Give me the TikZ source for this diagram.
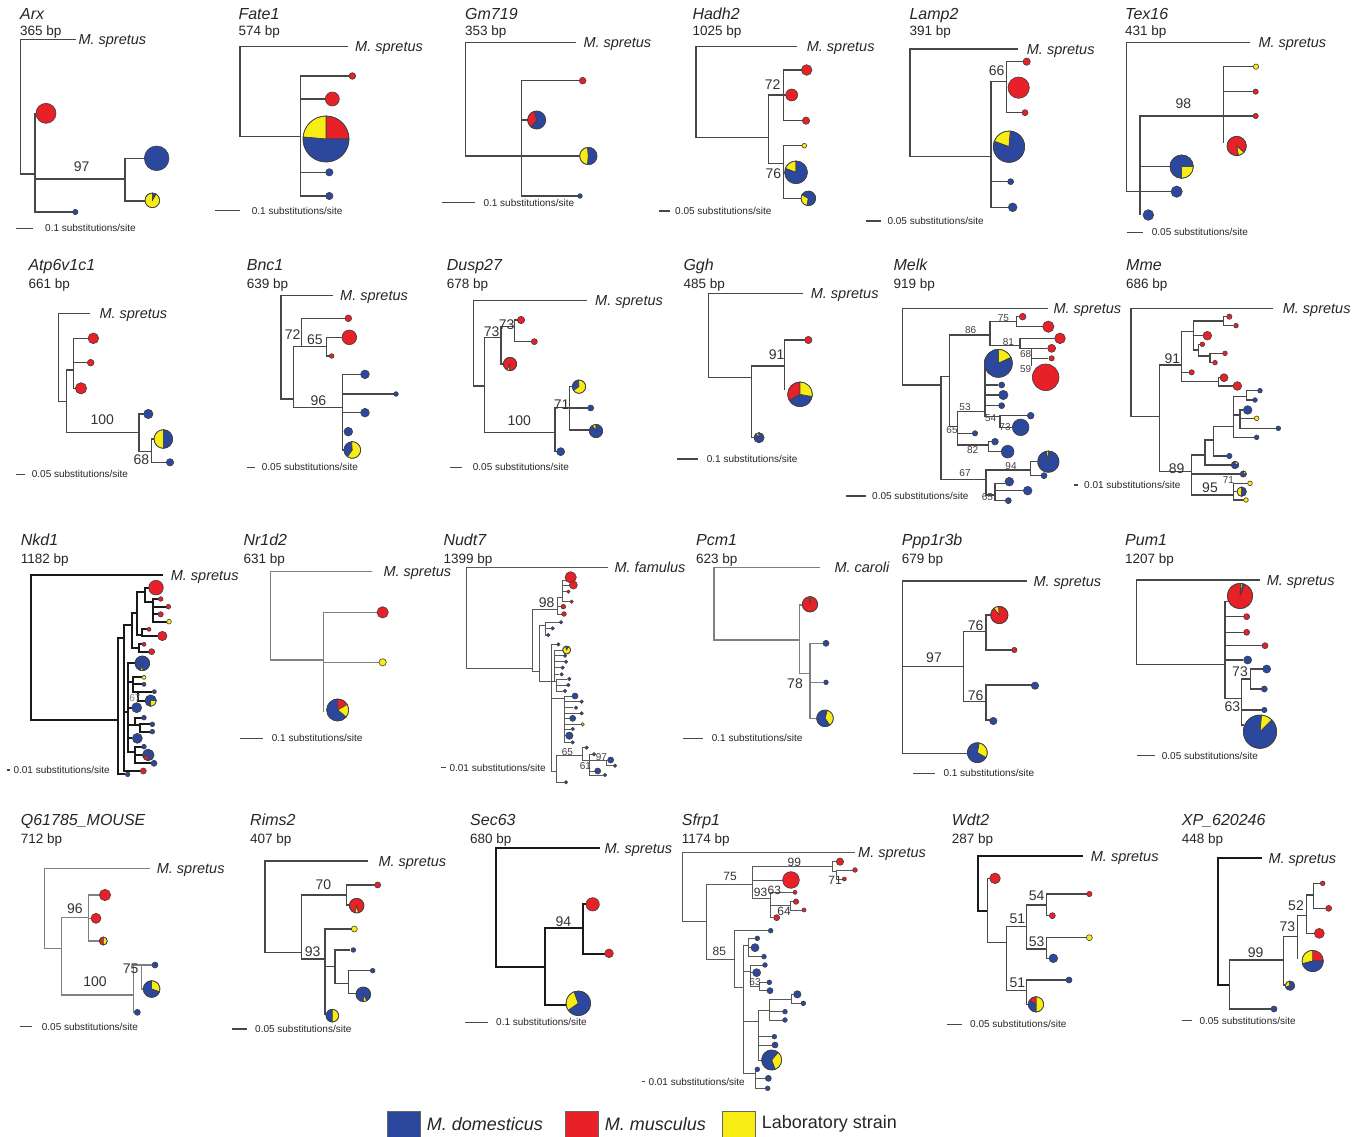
\documentclass[tikz,border=0pt]{standalone}
\usepackage{fontspec}
\setmainfont{Liberation Sans}
\usetikzlibrary{positioning}

\definecolor{dom}{RGB}{44,72,158}
\definecolor{mus}{RGB}{232,32,40}
\definecolor{lab}{RGB}{247,236,20}

\tikzset{
	branch/.style={draw=black!72,line width=1.3pt},
	branchk/.style={draw=black!90,line width=1.8pt},
	branchl/.style={draw=black!50,line width=1.1pt},
	brancht/.style={draw=black!65,line width=0.9pt},
	tipline/.style={draw=black!75,line width=0.6pt},
	genet/.style={anchor=west,inner sep=0pt,text=black!85,text height=11.5pt,text depth=0pt,font=\fontsize{16}{16}\selectfont\itshape},
	bpt/.style={anchor=west,inner sep=0pt,text=black!85,text height=9.7pt,text depth=0pt,font=\fontsize{13.5}{14}\selectfont},
	outg/.style={anchor=west,inner sep=0pt,text=black!85,text height=10.4pt,text depth=0pt,font=\fontsize{14.5}{15}\selectfont\itshape},
	boot/.style={inner sep=0pt,text=black!80,text height=10pt,text depth=0pt,font=\fontsize{14}{14}\selectfont},
	bootm/.style={inner sep=0pt,text=black!80,text height=8.5pt,text depth=0pt,font=\fontsize{12}{12}\selectfont},
	boots/.style={inner sep=0pt,text=black!75,text height=7pt,text depth=0pt,font=\fontsize{10}{10}\selectfont},
	scalet/.style={anchor=west,inner sep=0pt,text=black!85,text height=7.2pt,text depth=0pt,font=\fontsize{10}{10}\selectfont},
	legbox/.style={draw=black!60,line width=0.5pt,minimum width=33pt,minimum height=26pt,inner sep=0pt},
	legt/.style={anchor=west,inner sep=0pt,text=black!85,font=\fontsize{18}{18}\selectfont},
}

% tip circle: x, y, radius, colour
\newcommand\tipc[4]{\filldraw[tipline,fill=#4] (#1,#2) circle (#3pt);}
% pie: x, y, radius, list of start/end/colour
\newcommand\tpie[4]{%
	\foreach \pa/\pb/\pc in {#4}{%
		\filldraw[tipline,fill=\pc] (#1,#2) -- ++(\pa:#3pt) arc[start angle=\pa,end angle=\pb,radius=#3pt] -- cycle;}%
	\draw[tipline] (#1,#2) circle (#3pt);}

\begin{document}
\begin{tikzpicture}[x=1pt,y=-1pt]
	\useasboundingbox (0,0) rectangle (1358,1137);

	% ---- row 1, left ----
	\begin{scope}[shift={(0,0)},scale=1/3]
		% Arx
		\node[genet] (arx) at (60,42) {Arx};
		\node[bpt] (arxbp) at (60,92) {365 bp};
		\draw[branch] (228,118) -- (62,118) -- (62,522) -- (105,522);
		\draw[branch] (120,340) -- (105,340) -- (105,636) -- (220,636);
		\draw[branch] (105,537) -- (375,537);
		\draw[branch] (440,475) -- (375,475) -- (375,603) -- (440,603);
		\node[outg] (arxout) at (235,118) {M. spretus};
		\node[boot] (arxb1) at (245,500) {97};
		\tipc{138}{340}{30}{mus}
		\tipc{470}{475}{37}{dom}
		\tpie{457}{601}{22}{90/420/lab,60/90/dom}
		\tipc{226}{636}{8}{dom}
		\draw[branch] (48,685) -- (100,685);
		\node[scalet] (arxsc) at (135,685) {0.1 substitutions/site};
		% Fate1
		\node[genet] (fate) at (715,42) {Fate1};
		\node[bpt] (fatebp) at (715,92) {574 bp};
		\draw[branch] (1045,140) -- (720,140) -- (720,410) -- (902,410);
		\draw[branch] (1057,228) -- (902,228) -- (902,588) -- (988,588);
		\draw[branch] (902,297) -- (997,297);
		\draw[branch] (902,517) -- (988,517);
		\tipc{1057}{228}{10}{mus}
		\tipc{997}{297}{21}{mus}
		\tpie{978}{417}{69}{0/90/mus,90/175/lab,175/360/dom}
		\tipc{988}{517}{11}{dom}
		\tipc{988}{588}{11}{dom}
		\node[outg] (fateout) at (1065,140) {M. spretus};
		\draw[branch] (645,632) -- (720,632);
		\node[scalet] (fatesc) at (755,632) {0.1 substitutions/site};
	\end{scope}

	% ---- row 1, middle ----
	\begin{scope}[shift={(440,0)},scale=1/3]
		% Gm719
		\node[genet] (gm) at (75,42) {Gm719};
		\node[bpt] (gmbp) at (75,92) {353 bp};
		\draw[branch] (408,128) -- (77,128) -- (77,468) -- (430,468);
		\draw[branch] (428,242) -- (245,242) -- (245,588) -- (420,588);
		\draw[branch] (245,360) -- (270,360);
		\tipc{428}{242}{10}{mus}
		\tpie{290}{360}{27}{105/235/mus,235/465/dom}
		\tpie{445}{468}{26}{95/265/lab,265/455/dom}
		\tipc{420}{588}{7}{dom}
		\node[outg] (gmout) at (430,128) {M. spretus};
		\draw[branch] (5,608) -- (105,608);
		\node[scalet] (gmsc) at (130,608) {0.1 substitutions/site};
		% Hadh2
		\node[genet] (hadh) at (757,42) {Hadh2};
		\node[bpt] (hadhbp) at (757,92) {1025 bp};
		\draw[branch] (1070,140) -- (768,140) -- (768,412) -- (985,412);
		\draw[branch] (1030,285) -- (985,285) -- (985,490) -- (1030,490);
		\draw[branch] (1100,210) -- (1030,210) -- (1030,362) -- (1098,362);
		\draw[branch] (1030,285) -- (1045,285);
		\draw[branch] (1093,437) -- (1030,437) -- (1030,595) -- (1090,595);
		\draw[branch] (1030,517) -- (1040,517);
		\tipc{1100}{210}{16}{mus}
		\tipc{1055}{285}{18}{mus}
		\tipc{1098}{362}{11}{mus}
		\tipc{1093}{437}{7}{lab}
		\tpie{1068}{517}{34}{90/160/lab,160/450/dom}
		\tpie{1105}{595}{22}{150/260/lab,260/510/dom}
		\node[boot] (hadhb1) at (998,255) {72};
		\node[boot] (hadhb2) at (1000,522) {76};
		\node[outg] (hadhout) at (1100,140) {M. spretus};
		\draw[branch] (658,633) -- (690,633);
		\node[scalet] (hadhsc) at (705,633) {0.05 substitutions/site};
	\end{scope}

	% ---- row 1, right ----
	\begin{scope}[shift={(880,0)},scale=1/3]
		% Lamp2
		\node[genet] (lamp) at (88,42) {Lamp2};
		\node[bpt] (lampbp) at (88,92) {391 bp};
		\draw[branch] (415,147) -- (90,147) -- (90,470) -- (333,470);
		\draw[branch] (380,245) -- (333,245) -- (333,622) -- (398,622);
		\draw[branch] (440,185) -- (380,185) -- (380,338) -- (435,338);
		\draw[branch] (333,545) -- (392,545);
		\tipc{440}{185}{11}{mus}
		\tipc{416}{263}{32}{mus}
		\tipc{435}{338}{9}{mus}
		\tpie{387}{440}{47}{85/160/lab,160/445/dom}
		\tipc{392}{545}{9}{dom}
		\tipc{398}{622}{13}{dom}
		\node[boot] (lampb1) at (350,212) {66};
		\node[outg] (lampout) at (440,147) {M. spretus};
		\draw[branch] (-42,663) -- (2,663);
		\node[scalet] (lampsc) at (22,663) {0.05 substitutions/site};
		% Tex16
		\node[genet] (tex) at (735,42) {Tex16};
		\node[bpt] (texbp) at (735,92) {431 bp};
		\draw[branch] (1110,128) -- (740,128) -- (740,575) -- (880,575);
		\draw[branch] (1030,348) -- (780,348) -- (780,645);
		\draw[branch] (780,500) -- (880,500);
		\draw[branch] (1128,200) -- (1030,200) -- (1030,430);
		\draw[branch] (1030,275) -- (1127,275);
		\draw[branch] (1030,348) -- (1127,348);
		\tipc{890}{575}{17}{dom}
		\tpie{905}{500}{35}{270/360/lab,0/270/dom}
		\tipc{805}{645}{16}{dom}
		\tipc{1128}{200}{8}{lab}
		\tipc{1127}{275}{8}{mus}
		\tipc{1127}{348}{8}{mus}
		\tpie{1070}{438}{29}{280/320/lab,320/640/mus}
		\node[boot] (texb1) at (910,312) {98};
		\node[outg] (texout) at (1135,128) {M. spretus};
		\draw[branch] (740,697) -- (790,697);
		\node[scalet] (texsc) at (815,697) {0.05 substitutions/site};
	\end{scope}

	% ---- row 2, left ----
	\begin{scope}[shift={(0,250)},scale=1/3]
		% Atp6v1c1
		\node[genet] (atp) at (85,45) {Atp6v1c1};
		\node[bpt] (atpbp) at (85,100) {661 bp};
		\draw[branch] (270,190) -- (175,190) -- (175,455) -- (200,455);
		\draw[branch] (220,360) -- (200,360) -- (200,547) -- (417,547);
		\draw[branch] (265,265) -- (220,265) -- (220,415) -- (230,415);
		\draw[branch] (220,338) -- (265,338);
		\draw[branch] (435,492) -- (417,492) -- (417,605) -- (455,605);
		\draw[branch] (465,567) -- (455,567) -- (455,637) -- (505,637);
		\tipc{280}{265}{16}{mus}
		\tipc{272}{338}{10}{mus}
		\tipc{243}{415}{17}{mus}
		\tipc{445}{492}{14}{dom}
		\tpie{490}{567}{28}{90/270/lab,270/450/dom}
		\tipc{510}{637}{11}{dom}
		\node[boot] (atpb1) at (307,510) {100};
		\node[boot] (atpb2) at (424,628) {68};
		\node[outg] (atpout) at (298,190) {M. spretus};
		\draw[branch] (48,673) -- (75,673);
		\node[scalet] (atpsc) at (95,673) {0.05 substitutions/site};
		% Bnc1
		\node[genet] (bnc) at (740,45) {Bnc1};
		\node[bpt] (bncbp) at (740,100) {639 bp};
		\draw[branch] (1000,137) -- (843,137) -- (843,447) -- (880,447);
		\draw[branch] (980,290) -- (880,290) -- (880,473) -- (1028,473);
		\draw[branch] (1045,205) -- (905,205) -- (905,290);
		\draw[branch] (1030,262) -- (980,262) -- (980,318) -- (995,318);
		\draw[branch] (1095,373) -- (1028,373) -- (1028,600) -- (1040,600);
		\draw[branch] (1028,432) -- (1188,432);
		\draw[branch] (1028,488) -- (1095,488);
		\tipc{1045}{205}{10}{mus}
		\tipc{1048}{262}{22}{mus}
		\tipc{995}{318}{7}{mus}
		\tipc{1095}{373}{13}{dom}
		\tipc{1188}{432}{7}{dom}
		\tipc{1095}{488}{13}{dom}
		\tipc{1045}{545}{13}{dom}
		\tpie{1057}{600}{25}{95/235/dom,235/455/lab}
		\node[boot] (bncb1) at (878,252) {72};
		\node[boot] (bncb2) at (945,268) {65};
		\node[boot] (bncb3) at (955,452) {96};
		\node[outg] (bncout) at (1020,137) {M. spretus};
		\draw[branch] (740,652) -- (765,652);
		\node[scalet] (bncsc) at (785,652) {0.05 substitutions/site};
	\end{scope}

	% ---- row 2, middle ----
	\begin{scope}[shift={(440,250)},scale=1/3]
		% Dusp27
		\node[genet] (dusp) at (20,45) {Dusp27};
		\node[bpt] (duspbp) at (20,100) {678 bp};
		\draw[branch] (440,152) -- (100,152) -- (100,408) -- (133,408);
		\draw[branch] (183,263) -- (133,263) -- (133,548) -- (345,548);
		\draw[branch] (223,230) -- (183,230) -- (183,342) -- (195,342);
		\draw[branch] (235,210) -- (223,210) -- (223,275) -- (275,275);
		\draw[branch] (355,605) -- (345,605) -- (345,472) -- (388,472);
		\draw[branch] (400,410) -- (388,410) -- (388,540) -- (450,540);
		\draw[branch] (388,474) -- (452,474);
		\tipc{243}{210}{11}{mus}
		\tipc{283}{275}{9}{mus}
		\tpie{210}{342}{20}{240/265/lab,265/600/mus}
		\tipc{362}{605}{12}{dom}
		\tpie{417}{410}{20}{95/215/dom,215/455/lab}
		\tipc{452}{474}{9}{dom}
		\tpie{468}{543}{20}{90/125/lab,125/450/dom}
		\node[boot] (duspb1) at (155,243) {73};
		\node[boot] (duspb2) at (200,222) {73};
		\node[boot] (duspb3) at (238,513) {100};
		\node[boot] (duspb4) at (365,465) {71};
		\node[outg] (duspout) at (465,152) {M. spretus};
		\draw[branch] (30,652) -- (65,652);
		\node[scalet] (duspsc) at (98,652) {0.05 substitutions/site};
		% Ggh
		\node[genet] (ggh) at (730,45) {Ggh};
		\node[bpt] (gghbp) at (730,100) {485 bp};
		\draw[branch] (1090,130) -- (805,130) -- (805,382) -- (935,382);
		\draw[branch] (1033,348) -- (935,348) -- (935,563) -- (945,563);
		\draw[branch] (1095,270) -- (1033,270) -- (1033,420);
		\tpie{957}{563}{15}{90/135/lab,135/450/dom}
		\tipc{1105}{270}{11}{mus}
		\tpie{1080}{433}{37}{90/210/mus,210/350/dom,350/450/lab}
		\node[boot] (gghb1) at (1010,312) {91};
		\node[outg] (gghout) at (1112,130) {M. spretus};
		\draw[branch] (712,627) -- (775,627);
		\node[scalet] (gghsc) at (800,627) {0.1 substitutions/site};
	\end{scope}

	% ---- row 2, right ----
	\begin{scope}[shift={(880,250)},scale=1/3]
		% Melk
		\node[genet] (melk) at (40,45) {Melk};
		\node[bpt] (melkbp) at (40,100) {919 bp};
		\draw[branch] (505,175) -- (68,175) -- (68,405) -- (183,405);
		\draw[branch] (208,380) -- (183,380) -- (183,688) -- (318,688);
		\draw[branch] (330,255) -- (208,255) -- (208,530) -- (232,530);
		\draw[branch] (410,215) -- (330,215) -- (330,287) -- (420,287);
		\draw[branch] (420,200) -- (410,200) -- (410,230) -- (490,230);
		\draw[branch] (525,265) -- (420,265) -- (420,295) -- (455,295);
		\draw[branch] (500,295) -- (455,295) -- (455,348);
		\draw[branch] (455,325) -- (505,325);
		\tipc{428}{200}{10}{mus}
		\tipc{505}{230}{17}{mus}
		\tipc{540}{265}{16}{mus}
		\tipc{515}{295}{12}{mus}
		\tipc{515}{325}{8}{mus}
		\tipc{497}{382}{40}{mus}
		\node[boots] (melkb1) at (272,240) {86};
		\node[boots] (melkb2) at (370,203) {75};
		\node[boots] (melkb3) at (385,275) {81};
		\node[boots] (melkb4) at (437,312) {68};
		\node[boots] (melkb5) at (437,357) {59};
		\draw[branch] (315,485) -- (232,485) -- (232,585) -- (325,585);
		\draw[branch] (232,550) -- (278,550);
		\draw[branch] (315,350) -- (315,500) -- (360,500);
		\draw[branch] (315,405) -- (355,405);
		\draw[branch] (315,435) -- (358,435);
		\draw[branch] (315,467) -- (356,467);
		\draw[branch] (445,497) -- (360,497) -- (360,532) -- (400,532);
		\draw[branch] (340,575) -- (325,575) -- (325,605) -- (365,605);
		\tpie{355}{340}{42}{25/90/lab,90/385/dom}
		\tipc{365}{405}{9}{dom}
		\tipc{370}{435}{14}{dom}
		\tipc{365}{467}{9}{dom}
		\tipc{452}{497}{10}{dom}
		\tipc{422}{532}{25}{dom}
		\tipc{285}{550}{8}{dom}
		\tipc{345}{575}{10}{dom}
		\tipc{383}{605}{19}{dom}
		\node[boots] (melkb6) at (255,470) {53};
		\node[boots] (melkb7) at (216,540) {65};
		\node[boots] (melkb8) at (332,505) {54};
		\node[boots] (melkb9) at (375,532) {73};
		\node[boots] (melkb10) at (278,600) {82};
		\draw[branch] (452,660) -- (318,660) -- (318,735) -- (345,735);
		\draw[branch] (470,635) -- (452,635) -- (452,677) -- (485,677);
		\draw[branch] (375,700) -- (345,700) -- (345,752) -- (378,752);
		\draw[branch] (345,722) -- (430,722);
		\tpie{505}{635}{32}{90/102/lab,102/450/dom}
		\tipc{492}{677}{9}{dom}
		\tipc{388}{695}{13}{dom}
		\tipc{443}{722}{13}{dom}
		\tipc{385}{752}{9}{dom}
		\node[boots] (melkb11) at (255,668) {67};
		\node[boots] (melkb12) at (393,648) {94};
		\node[boots] (melkb13) at (322,742) {65};
		\node[outg] (melkout) at (520,175) {M. spretus};
		\draw[branch] (-102,738) -- (-42,738);
		\node[scalet] (melksc) at (-24,738) {0.05 substitutions/site};
		% Mme
		\node[genet] (mme) at (738,45) {Mme};
		\node[bpt] (mmebp) at (738,100) {686 bp};
		\draw[branch] (1180,175) -- (753,175) -- (753,500) -- (838,500);
		\draw[branch] (905,345) -- (838,345) -- (838,665) -- (935,665);
		\draw[branch] (940,245) -- (905,245) -- (905,395) -- (1015,395);
		\draw[branch] (905,367) -- (927,367);
		\draw[branch] (1030,213) -- (940,213) -- (940,300) -- (955,300);
		\draw[branch] (1040,200) -- (1030,200) -- (1030,227) -- (1060,227);
		\draw[branch] (940,257) -- (969,257);
		\draw[branch] (960,283) -- (955,283) -- (955,318) -- (990,318);
		\draw[branch] (1028,310) -- (990,310) -- (990,338) -- (998,338);
		\draw[branch] (1020,383) -- (1015,383) -- (1015,408) -- (1059,408);
		\tipc{1048}{200}{8}{mus}
		\tipc{1068}{227}{7}{mus}
		\tipc{982}{257}{13}{mus}
		\tipc{967}{283}{7}{mus}
		\tipc{1035}{310}{7}{mus}
		\tipc{1005}{338}{7}{mus}
		\tipc{935}{367}{8}{mus}
		\tipc{1032}{383}{12}{mus}
		\tipc{1072}{408}{13}{mus}
		\draw[branch] (975,615) -- (935,615) -- (935,735) -- (1060,735);
		\draw[branch] (935,672) -- (1081,672);
		\draw[branch] (1000,570) -- (975,570) -- (975,645) -- (1054,645);
		\draw[branch] (1060,530) -- (1000,530) -- (1000,618) -- (1040,618);
		\draw[branch] (1100,440) -- (1060,440) -- (1060,562) -- (1123,562);
		\draw[branch] (1133,422) -- (1100,422) -- (1100,450) -- (1118,450);
		\draw[branch] (1060,495) -- (1080,495);
		\draw[branch] (1090,480) -- (1080,480) -- (1080,535) -- (1188,535);
		\draw[branch] (1080,505) -- (1123,505);
		\draw[branch] (1103,700) -- (1060,700) -- (1060,750) -- (1091,750);
		\draw[branch] (1060,725) -- (1071,725);
		\tipc{1140}{422}{7}{dom}
		\tipc{1125}{450}{7}{dom}
		\tipc{1103}{480}{13}{dom}
		\tipc{1130}{505}{7}{lab}
		\tipc{1195}{535}{7}{dom}
		\tipc{1130}{562}{7}{dom}
		\tipc{1048}{618}{8}{dom}
		\tpie{1065}{645}{11}{20/90/lab,90/380/dom}
		\tpie{1090}{672}{9}{0/90/lab,90/360/dom}
		\tipc{1110}{700}{7}{lab}
		\tpie{1085}{725}{14}{90/270/lab,270/450/dom}
		\tipc{1098}{750}{7}{lab}
		\node[boot] (mmeb1) at (877,325) {91};
		\node[boot] (mmeb2) at (890,655) {89};
		\node[boot] (mmeb3) at (990,712) {95};
		\node[boots] (mmeb4) at (1045,690) {71};
		\node[outg] (mmeout) at (1208,175) {M. spretus};
		\draw[branch] (583,705) -- (595,705);
		\node[scalet] (mmesc) at (612,705) {0.01 substitutions/site};
	\end{scope}

	% ---- row 3, left ----
	\begin{scope}[shift={(0,525)},scale=1/3]
		% Nkd1
		\node[genet] (nkd) at (62,45) {Nkd1};
		\node[bpt] (nkdbp) at (62,100) {1182 bp};
		\draw[branchk] (490,150) -- (92,150) -- (92,585) -- (355,585);
		\draw[branchk] (372,340) -- (355,340) -- (355,748) -- (376,748);
		\draw[branchk] (395,300) -- (372,300) -- (372,738) -- (421,738);
		\draw[branchk] (410,265) -- (395,265) -- (395,370) -- (418,370);
		\draw[branchk] (435,200) -- (410,200) -- (410,330) -- (425,330);
		\draw[branchk] (446,188) -- (435,188) -- (435,230) -- (460,230);
		\draw[branchk] (475,222) -- (460,222) -- (460,290) -- (500,290);
		\draw[branchk] (460,245) -- (498,245);
		\draw[branchk] (460,268) -- (474,268);
		\draw[branchk] (441,313) -- (425,313) -- (425,333) -- (473,333);
		\draw[branchk] (426,358) -- (418,358) -- (418,380) -- (446,380);
		\tipc{468}{188}{22}{mus}
		\tipc{482}{222}{7}{mus}
		\tipc{505}{245}{7}{mus}
		\tipc{482}{268}{8}{mus}
		\tipc{507}{290}{7}{lab}
		\tipc{447}{313}{6}{mus}
		\tipc{487}{333}{14}{mus}
		\tipc{432}{358}{6}{mus}
		\tipc{455}{380}{9}{mus}
		\draw[branchk] (372,560) -- (385,560);
		\draw[branchk] (405,415) -- (385,415) -- (385,680) -- (405,680);
		\draw[branchk] (385,470) -- (400,470);
		\draw[branchk] (426,457) -- (400,457) -- (400,500) -- (415,500);
		\draw[branchk] (400,478) -- (426,478);
		\draw[branchk] (456,500) -- (415,500) -- (415,527) -- (435,527);
		\draw[branchk] (385,548) -- (395,548);
		\draw[branchk] (385,600) -- (405,600);
		\draw[branchk] (425,578) -- (405,578) -- (405,600) -- (420,600);
		\draw[branchk] (450,598) -- (420,598) -- (420,620) -- (450,620);
		\draw[branchk] (385,640) -- (397,640);
		\draw[branchk] (425,665) -- (405,665) -- (405,715) -- (453,715);
		\draw[branchk] (405,690) -- (428,690);
		\tpie{427}{415}{22}{255/275/lab,275/615/dom}
		\tipc{432}{457}{6}{lab}
		\tipc{432}{478}{6}{dom}
		\tipc{463}{500}{6}{dom}
		\tpie{452}{527}{17}{270/360/lab,0/270/dom}
		\tipc{410}{548}{15}{dom}
		\tipc{432}{578}{7}{dom}
		\tipc{457}{598}{7}{dom}
		\tipc{457}{620}{7}{dom}
		\tipc{412}{640}{15}{dom}
		\tipc{432}{665}{7}{dom}
		\tpie{445}{690}{17}{200/265/mus,265/560/dom}
		\tipc{462}{715}{9}{dom}
		\tipc{430}{738}{9}{mus}
		\tipc{383}{748}{7}{dom}
		\node[boots,text=black!50] (nkdb1) at (405,520) {67};
		\node[outg] (nkdout) at (512,150) {M. spretus};
		\draw[branch] (20,735) -- (30,735);
		\node[scalet] (nkdsc) at (40,735) {0.01 substitutions/site};
		% Nr1d2
		\node[genet] (nr) at (730,45) {Nr1d2};
		\node[bpt] (nrbp) at (730,100) {631 bp};
		\draw[branchl] (1115,140) -- (812,140) -- (812,405) -- (970,405);
		\draw[branchl] (1130,262) -- (970,262) -- (970,560);
		\draw[branchl] (970,412) -- (1137,412);
		\tipc{1148}{262}{17}{mus}
		\tipc{1148}{412}{11}{lab}
		\tpie{1013}{555}{33}{30/90/mus,-40/30/lab,90/320/dom}
		\node[outg] (nrout) at (1150,140) {M. spretus};
		\draw[branch] (720,640) -- (790,640);
		\node[scalet] (nrsc) at (815,640) {0.1 substitutions/site};
	\end{scope}

	% ---- row 3, middle ----
	\begin{scope}[shift={(440,525)},scale=1/3]
		% Nudt7
		\node[genet] (nudt) at (10,45) {Nudt7};
		\node[bpt] (nudtbp) at (10,100) {1399 bp};
		\draw[brancht] (505,128) -- (78,128) -- (78,430) -- (278,430);
		\draw[brancht] (352,252) -- (278,252) -- (278,440) -- (298,440);
		\draw[brancht] (365,267) -- (352,267) -- (352,218) -- (368,218);
		\draw[brancht] (352,245) -- (363,245);
		\draw[brancht] (378,165) -- (368,165) -- (368,230) -- (390,230);
		\draw[brancht] (368,180) -- (390,180);
		\draw[brancht] (368,200) -- (380,200);
		\tipc{392}{157}{17}{mus}
		\tipc{400}{180}{12}{mus}
		\tipc{385}{200}{5}{mus}
		\tipc{395}{230}{5}{mus}
		\tipc{370}{245}{7}{mus}
		\tipc{372}{267}{7}{mus}
		\node[boot] (nudtb1) at (320,232) {98};
		\draw[brancht] (315,300) -- (298,300) -- (298,470) -- (335,470);
		\draw[brancht] (358,292) -- (315,292) -- (315,330) -- (320,330);
		\draw[brancht] (315,310) -- (335,310);
		\tipc{363}{292}{5}{dom}
		\tipc{338}{310}{5}{dom}
		\tipc{325}{330}{5}{dom}
		\draw[brancht] (350,358) -- (335,358) -- (335,740) -- (350,740);
		\draw[brancht] (368,375) -- (342,375) -- (342,470) -- (335,470);
		\draw[brancht] (342,392) -- (370,392);
		\draw[brancht] (342,410) -- (372,410);
		\draw[brancht] (342,428) -- (362,428);
		\draw[brancht] (342,448) -- (358,448);
		\draw[brancht] (382,462) -- (350,462) -- (350,498) -- (370,498);
		\draw[brancht] (342,470) -- (350,470);
		\draw[brancht] (350,480) -- (380,480);
		\tipc{355}{358}{5}{dom}
		\tpie{380}{375}{12}{60/110/dom,110/420/lab}
		\tipc{375}{392}{5}{dom}
		\tipc{378}{410}{5}{dom}
		\tipc{368}{428}{5}{dom}
		\tipc{365}{448}{5}{dom}
		\tipc{388}{462}{5}{dom}
		\tipc{385}{480}{5}{dom}
		\tipc{375}{498}{5}{dom}
		\draw[brancht] (335,520) -- (372,520);
		\draw[brancht] (395,513) -- (372,513) -- (372,652) -- (392,652);
		\draw[brancht] (372,530) -- (420,530);
		\draw[brancht] (372,548) -- (400,548);
		\draw[brancht] (372,565) -- (420,565);
		\draw[brancht] (372,580) -- (390,580);
		\draw[brancht] (372,598) -- (423,598);
		\draw[brancht] (372,612) -- (392,612);
		\draw[brancht] (372,632) -- (378,632);
		\tipc{405}{513}{9}{dom}
		\tipc{425}{530}{5}{dom}
		\tipc{408}{548}{5}{dom}
		\tipc{425}{565}{5}{dom}
		\tipc{398}{580}{9}{dom}
		\tipc{428}{598}{5}{lab}
		\tipc{398}{612}{5}{dom}
		\tipc{388}{632}{11}{dom}
		\tipc{398}{652}{5}{dom}
		\draw[brancht] (428,690) -- (350,690) -- (350,772) -- (372,772);
		\draw[brancht] (435,668) -- (428,668) -- (428,705) -- (448,705);
		\draw[brancht] (456,688) -- (448,688) -- (448,750) -- (490,750);
		\draw[brancht] (448,705) -- (500,705);
		\draw[brancht] (505,705) -- (500,705) -- (500,722) -- (520,722);
		\draw[brancht] (448,738) -- (465,738);
		\tipc{440}{668}{5}{dom}
		\tipc{462}{688}{5}{dom}
		\tipc{512}{705}{9}{dom}
		\tipc{525}{722}{5}{dom}
		\tipc{473}{738}{9}{dom}
		\tipc{495}{750}{5}{dom}
		\tipc{378}{772}{5}{dom}
		\node[boots] (nudtb2) at (382,680) {65};
		\node[boots] (nudtb3) at (484,695) {97};
		\node[boots] (nudtb4) at (436,722) {61};
		\node[outg] (nudtout) at (523,128) {M. famulus};
		\draw[branch] (3,728) -- (18,728);
		\node[scalet] (nudtsc) at (28,728) {0.01 substitutions/site};
		% Pcm1
		\node[genet] (pcm) at (768,45) {Pcm1};
		\node[bpt] (pcmbp) at (768,100) {623 bp};
		\draw[branchl] (1140,128) -- (822,128) -- (822,345) -- (1078,345);
		\draw[branchl] (1088,240) -- (1078,240) -- (1078,445) -- (1110,445);
		\draw[branchl] (1150,355) -- (1110,355) -- (1110,580) -- (1130,580);
		\draw[branchl] (1110,472) -- (1150,472);
		\tpie{1110}{238}{23}{82/96/lab,96/442/mus}
		\tipc{1158}{355}{9}{dom}
		\tipc{1158}{472}{7}{dom}
		\tpie{1155}{580}{25}{-55/75/lab,75/305/dom}
		\node[boot] (pcmb1) at (1065,475) {78};
		\node[outg] (pcmout) at (1183,128) {M. caroli};
		\draw[branch] (730,640) -- (790,640);
		\node[scalet] (pcmsc) at (815,640) {0.1 substitutions/site};
	\end{scope}

	% ---- row 3, right ----
	\begin{scope}[shift={(880,525)},scale=1/3]
		% Ppp1r3b
		\node[genet] (ppp) at (65,45) {Ppp1r3b};
		\node[bpt] (pppbp) at (65,100) {679 bp};
		\draw[branch] (440,168) -- (68,168) -- (68,685) -- (265,685);
		\draw[branch] (68,425) -- (250,425);
		\draw[branch] (318,320) -- (250,320) -- (250,530) -- (318,530);
		\draw[branch] (335,270) -- (318,270) -- (318,375) -- (395,375);
		\draw[branch] (455,480) -- (318,480) -- (318,585) -- (330,585);
		\tpie{292}{683}{30}{-30/80/lab,80/330/dom}
		\tpie{358}{270}{26}{95/130/lab,130/455/mus}
		\tipc{403}{375}{8}{mus}
		\tipc{465}{482}{11}{dom}
		\tipc{340}{588}{11}{dom}
		\node[boot] (pppb1) at (162,398) {97};
		\node[boot] (pppb2) at (287,300) {76};
		\node[boot] (pppb3) at (287,510) {76};
		\node[outg] (pppout) at (460,168) {M. spretus};
		\draw[branch] (100,745) -- (165,745);
		\node[scalet] (pppsc) at (190,745) {0.1 substitutions/site};
		% Pum1
		\node[genet] (pum) at (735,45) {Pum1};
		\node[bpt] (pumbp) at (735,100) {1207 bp};
		\draw[branch] (1140,165) -- (770,165) -- (770,418) -- (1035,418);
		\draw[branch] (1045,230) -- (1035,230) -- (1035,520) -- (1085,520);
		\draw[branch] (1035,275) -- (1092,275);
		\draw[branch] (1035,322) -- (1092,322);
		\draw[branch] (1035,362) -- (1145,362);
		\draw[branch] (1035,405) -- (1090,405);
		\draw[branch] (1112,462) -- (1085,462) -- (1085,600) -- (1092,600);
		\draw[branch] (1150,432) -- (1112,432) -- (1112,492) -- (1145,492);
		\draw[branch] (1085,555) -- (1145,555);
		\tpie{1080}{213}{38}{68/78/dom,78/86/lab,86/428/mus}
		\tipc{1100}{275}{9}{mus}
		\tipc{1100}{322}{9}{mus}
		\tipc{1155}{362}{9}{mus}
		\tipc{1103}{405}{12}{dom}
		\tipc{1160}{432}{12}{dom}
		\tipc{1153}{492}{9}{dom}
		\tipc{1153}{555}{8}{dom}
		\tpie{1140}{620}{50}{45/85/lab,85/405/dom}
		\node[boot] (pumb1) at (1080,440) {73};
		\node[boot] (pumb2) at (1057,545) {63};
		\node[outg] (pumout) at (1160,165) {M. spretus};
		\draw[branch] (770,692) -- (825,692);
		\node[scalet] (pumsc) at (845,692) {0.05 substitutions/site};
	\end{scope}

	% ---- row 4, left ----
	\begin{scope}[shift={(0,805)},scale=1/3]
		% Q61785_MOUSE
		\node[genet] (qmo) at (62,45) {Q61785\_MOUSE};
		\node[bpt] (qmobp) at (62,100) {712 bp};
		\draw[branchl] (450,190) -- (133,190) -- (133,430) -- (185,430);
		\draw[branchl] (265,338) -- (185,338) -- (185,570) -- (400,570);
		\draw[branchl] (300,270) -- (265,270) -- (265,408) -- (298,408);
		\draw[branchl] (265,340) -- (275,340);
		\draw[branchl] (425,480) -- (400,480) -- (400,622) -- (405,622);
		\draw[branchl] (455,480) -- (425,480) -- (425,552) -- (432,552);
		\tipc{315}{270}{17}{mus}
		\tipc{288}{340}{15}{mus}
		\tpie{310}{408}{12}{90/270/mus,-90/90/lab}
		\tipc{465}{480}{9}{dom}
		\tpie{455}{552}{25}{-20/90/lab,90/340/dom}
		\tipc{412}{622}{9}{dom}
		\node[boot] (qmob1) at (225,310) {96};
		\node[boot] (qmob2) at (285,530) {100};
		\node[boot] (qmob3) at (392,490) {75};
		\node[outg] (qmoout) at (470,190) {M. spretus};
		\draw[branch] (60,665) -- (95,665);
		\node[scalet] (qmosc) at (125,665) {0.05 substitutions/site};
		% Rims2
		\node[genet] (rims) at (750,45) {Rims2};
		\node[bpt] (rimsbp) at (750,100) {407 bp};
		\draw[branch] (1105,168) -- (795,168) -- (795,442) -- (905,442);
		\draw[branch] (1040,270) -- (905,270) -- (905,462) -- (975,462);
		\draw[branch] (1125,240) -- (1040,240) -- (1040,300) -- (1050,300);
		\draw[branch] (1055,372) -- (975,372) -- (975,630);
		\draw[branch] (1005,485) -- (975,485);
		\draw[branch] (1050,435) -- (1005,435) -- (1005,535) -- (1045,535);
		\draw[branch] (1110,497) -- (1045,497) -- (1045,565) -- (1068,565);
		\tipc{1133}{240}{9}{mus}
		\tpie{1070}{302}{22}{255/285/lab,285/615/mus}
		\tipc{1063}{372}{9}{lab}
		\tipc{1060}{435}{7}{dom}
		\tipc{1118}{497}{7}{dom}
		\tpie{1090}{568}{22}{270/300/lab,300/630/dom}
		\tpie{997}{632}{19}{90/270/dom,-90/90/lab}
		\node[boot] (rimsb1) at (970,238) {70};
		\node[boot] (rimsb2) at (938,440) {93};
		\node[outg] (rimsout) at (1135,168) {M. spretus};
		\draw[branch] (695,672) -- (740,672);
		\node[scalet] (rimssc) at (765,672) {0.05 substitutions/site};
	\end{scope}

	% ---- row 4, middle ----
	\begin{scope}[shift={(440,805)},scale=1/3]
		% Sec63
		\node[genet] (sec) at (90,45) {Sec63};
		\node[bpt] (secbp) at (90,100) {680 bp};
		\draw[branchk] (480,130) -- (168,130) -- (168,487) -- (315,487);
		\draw[branchk] (428,370) -- (315,370) -- (315,600) -- (380,600);
		\draw[branchk] (440,298) -- (428,298) -- (428,447) -- (495,447);
		\tipc{458}{298}{20}{mus}
		\tipc{507}{445}{13}{mus}
		\tpie{415}{595}{37}{110/215/lab,215/470/dom}
		\node[boot] (secb1) at (370,350) {94};
		\node[outg] (secout) at (493,130) {M. spretus};
		\draw[branch] (75,652) -- (145,652);
		\node[scalet] (secsc) at (168,652) {0.1 substitutions/site};
		% Sfrp1
		\node[genet] (sfrp) at (725,45) {Sfrp1};
		\node[bpt] (sfrpbp) at (725,100) {1174 bp};
		\draw[brancht] (1245,143) -- (728,143) -- (728,348) -- (798,348);
		\draw[brancht] (938,237) -- (798,237) -- (798,462) -- (883,462);
		\draw[brancht] (1178,185) -- (938,185) -- (938,280) -- (990,280);
		\draw[brancht] (938,225) -- (1028,225);
		\draw[brancht] (1190,170) -- (1178,170) -- (1178,200) -- (1190,200);
		\draw[brancht] (1238,195) -- (1190,195) -- (1190,222) -- (1207,222);
		\draw[brancht] (1058,262) -- (990,262) -- (990,338) -- (1000,338);
		\draw[brancht] (990,300) -- (1050,300);
		\draw[brancht] (1060,290) -- (1050,290) -- (1050,315) -- (1086,315);
		\tipc{1200}{170}{11}{mus}
		\tipc{1245}{195}{7}{mus}
		\tipc{1213}{222}{6}{mus}
		\tipc{1053}{225}{25}{mus}
		\tipc{1065}{262}{6}{mus}
		\tipc{1010}{338}{9}{mus}
		\tipc{1068}{290}{8}{mus}
		\tipc{1092}{315}{6}{mus}
		\node[bootm] (sfrpb1) at (870,215) {75};
		\node[bootm] (sfrpb2) at (1063,172) {99};
		\node[bootm] (sfrpb3) at (1185,225) {71};
		\node[bootm] (sfrpb4) at (962,262) {93};
		\node[bootm] (sfrpb5) at (1003,255) {63};
		\node[bootm] (sfrpb6) at (1032,320) {64};
		\node[bootm] (sfrpb7) at (838,440) {85};
		\draw[brancht] (985,377) -- (883,377) -- (883,548) -- (910,548);
		\draw[brancht] (925,420) -- (910,420) -- (910,805) -- (945,805);
		\draw[brancht] (945,400) -- (925,400) -- (925,455) -- (965,455);
		\draw[brancht] (925,428) -- (933,428);
		\draw[brancht] (910,500) -- (930,500);
		\draw[brancht] (968,480) -- (930,480) -- (930,545) -- (958,545);
		\draw[brancht] (930,503) -- (938,503);
		\draw[brancht] (981,532) -- (958,532) -- (958,557) -- (981,557);
		\draw[brancht] (910,650) -- (955,650);
		\draw[brancht] (988,615) -- (955,615) -- (955,765) -- (965,765);
		\draw[brancht] (1055,582) -- (988,582) -- (988,645) -- (1028,645);
		\draw[brancht] (988,620) -- (1028,620);
		\draw[brancht] (1061,568) -- (1055,568) -- (1055,595) -- (1083,595);
		\draw[brancht] (955,695) -- (996,695);
		\draw[brancht] (955,720) -- (996,720);
		\draw[brancht] (950,793) -- (945,793) -- (945,850) -- (976,850);
		\draw[brancht] (945,820) -- (976,820);
		\tipc{992}{377}{7}{dom}
		\tipc{952}{400}{7}{dom}
		\tipc{945}{428}{12}{dom}
		\tipc{972}{455}{7}{dom}
		\tipc{975}{480}{7}{dom}
		\tipc{950}{503}{12}{dom}
		\tipc{988}{532}{7}{dom}
		\tipc{990}{557}{9}{dom}
		\tipc{1072}{568}{11}{dom}
		\tipc{1090}{595}{7}{dom}
		\tipc{1035}{620}{7}{dom}
		\tipc{1035}{645}{7}{dom}
		\tipc{1003}{695}{7}{dom}
		\tipc{1005}{720}{9}{dom}
		\tpie{995}{765}{30}{-70/50/lab,50/290/dom}
		\tipc{952}{793}{7}{dom}
		\tipc{985}{820}{9}{dom}
		\tipc{983}{850}{7}{dom}
		\node[boots] (sfrpb8) at (945,530) {63};
		\node[outg] (sfrpout) at (1254,143) {M. spretus};
		\draw[branch] (605,830) -- (615,830);
		\node[scalet] (sfrpsc) at (625,830) {0.01 substitutions/site};
	\end{scope}

	% ---- row 4, right ----
	\begin{scope}[shift={(880,805)},scale=1/3]
		% Wdt2
		\node[genet] (wdt) at (215,45) {Wdt2};
		\node[bpt] (wdtbp) at (215,100) {287 bp};
		\draw[branchk] (610,153) -- (293,153) -- (293,317) -- (322,317);
		\draw[branch] (330,220) -- (322,220) -- (322,412) -- (380,412);
		\draw[branch] (440,365) -- (380,365) -- (380,557) -- (440,557);
		\draw[branch] (500,300) -- (440,300) -- (440,432) -- (500,432);
		\draw[branch] (620,267) -- (500,267) -- (500,332) -- (508,332);
		\draw[branch] (620,398) -- (500,398) -- (500,460) -- (508,460);
		\draw[branch] (558,525) -- (440,525) -- (440,598) -- (445,598);
		\tipc{345}{220}{16}{mus}
		\tipc{628}{267}{8}{mus}
		\tipc{517}{332}{9}{mus}
		\tipc{628}{398}{9}{lab}
		\tipc{520}{460}{13}{dom}
		\tipc{567}{525}{9}{dom}
		\tpie{468}{598}{23}{-90/90/lab,90/150/mus,150/270/dom}
		\node[boot] (wdtb1) at (470,272) {54};
		\node[boot] (wdtb2) at (412,340) {51};
		\node[boot] (wdtb3) at (470,408) {53};
		\node[boot] (wdtb4) at (412,532) {51};
		\node[outg] (wdtout) at (632,153) {M. spretus};
		\draw[branch] (202,658) -- (245,658);
		\node[scalet] (wdtsc) at (270,658) {0.05 substitutions/site};
		% XP_620246
		\node[genet] (xp) at (905,45) {XP\_620246};
		\node[bpt] (xpbp) at (905,100) {448 bp};
		\draw[branchk] (1145,160) -- (1015,160) -- (1015,540) -- (1048,540);
		\draw[branch] (1210,465) -- (1048,465) -- (1048,612) -- (1172,612);
		\draw[branch] (1253,395) -- (1210,395) -- (1210,540) -- (1216,540);
		\draw[branch] (1280,332) -- (1253,332) -- (1253,462);
		\draw[branch] (1300,270) -- (1280,270) -- (1280,385) -- (1303,385);
		\draw[branch] (1322,235) -- (1300,235) -- (1300,310) -- (1338,310);
		\tipc{1182}{612}{9}{dom}
		\tpie{1230}{542}{14}{100/200/lab,200/460/dom}
		\tpie{1298}{468}{32}{0/90/mus,90/195/lab,195/360/dom}
		\tipc{1328}{235}{7}{mus}
		\tipc{1346}{310}{9}{mus}
		\tipc{1318}{385}{15}{mus}
		\node[boot] (xpb1) at (1127,442) {99};
		\node[boot] (xpb2) at (1222,365) {73};
		\node[boot] (xpb3) at (1248,302) {52};
		\node[outg] (xpout) at (1165,160) {M. spretus};
		\draw[branch] (905,647) -- (935,647);
		\node[scalet] (xpsc) at (958,647) {0.05 substitutions/site};
	\end{scope}

	% legend
	\node[legbox,fill=dom] (legdom) at (404,1124) {};
	\node[legt,right=6pt of legdom] (legdomt) {\textit{M. domesticus}};
	\node[legbox,fill=mus] (legmus) at (582,1124) {};
	\node[legt,right=6pt of legmus] (legmust) {\textit{M. musculus}};
	\node[legbox,fill=lab] (leglab) at (739,1124) {};
	\node[legt,right=6pt of leglab] (leglabt) {Laboratory strain};
\end{tikzpicture}
\end{document}
